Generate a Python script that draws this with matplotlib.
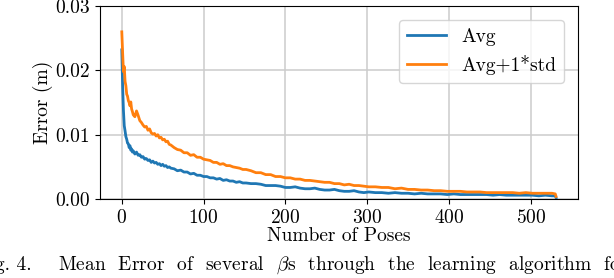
import matplotlib
matplotlib.use('Agg')
import matplotlib.pyplot as plt

plt.rcParams['font.family'] = ['cmr10', 'DejaVu Serif']
plt.rcParams['mathtext.fontset'] = 'cm'
plt.rcParams['axes.unicode_minus'] = False
plt.rcParams['axes.formatter.use_mathtext'] = True

# pose index where each value was read
poses = [0, 1, 2, 3, 4, 5, 6, 7, 8, 9, 10, 11, 12, 13, 14,
         16, 18, 20, 22, 24, 26, 28, 30, 32, 34, 36, 38, 40, 42, 44, 46, 48, 50, 52, 54, 56, 58, 60,
         64, 68, 72, 76, 80, 84, 88, 92, 96, 100, 104, 108, 112, 116, 120, 124, 128, 132, 136, 140,
         144, 148, 152,
         158, 164, 170, 176, 182, 188, 194, 200, 206, 212, 218, 224, 230, 236, 242, 248, 254, 260,
         266, 272, 278, 284, 290, 296, 302,
         310, 318, 326, 334, 342, 350, 358, 366, 374, 382, 390, 398, 406, 414, 422, 430, 438, 446,
         454, 462, 470, 478, 486, 494, 502, 510, 518, 526,
         530, 531]

avg_err = [0.0232, 0.0176, 0.0138, 0.0114, 0.0106, 0.0097, 0.0093, 0.0087, 0.0086, 0.0080,
           0.0083, 0.0076, 0.0078, 0.0073, 0.0075,
           0.0070, 0.0073, 0.0068, 0.0069, 0.0065, 0.0066, 0.0062, 0.0063, 0.0060, 0.0061, 0.0057,
           0.0059, 0.0056, 0.0057, 0.0054, 0.0055, 0.0052, 0.0054, 0.0051, 0.0052, 0.0049, 0.0050,
           0.0048,
           0.0047, 0.0044, 0.0045, 0.0042, 0.0042, 0.0039, 0.0040, 0.0037, 0.0037, 0.0035, 0.0035,
           0.0033, 0.0033, 0.0031, 0.0032, 0.0029, 0.0030, 0.0028, 0.0028, 0.0026, 0.0027, 0.0025,
           0.0025,
           0.0024, 0.0024, 0.0023, 0.0021, 0.0021, 0.0021, 0.0020, 0.0018, 0.0018, 0.0019, 0.0017,
           0.0016, 0.0016, 0.0017, 0.0015, 0.0014, 0.0014, 0.0015, 0.0013, 0.0012, 0.0012, 0.0013,
           0.0011, 0.0010, 0.0011,
           0.0010, 0.0010, 0.0009, 0.0010, 0.0009, 0.0009, 0.0008, 0.0009, 0.0008, 0.0008, 0.0008,
           0.0007, 0.0008, 0.0007, 0.0007, 0.0007, 0.0007, 0.0007, 0.0006, 0.0007, 0.0006, 0.0006,
           0.0006, 0.0006, 0.0006, 0.0005, 0.0006, 0.0005,
           0.0005, 0.0002]

avg_std_err = [0.0260, 0.0228, 0.0198, 0.0206, 0.0183, 0.0176, 0.0163, 0.0160, 0.0153, 0.0150,
               0.0145, 0.0151, 0.0140, 0.0136, 0.0131,
               0.0128, 0.0137, 0.0130, 0.0122, 0.0119, 0.0115, 0.0112, 0.0113, 0.0107, 0.0109,
               0.0103, 0.0101, 0.0102, 0.0098, 0.0100, 0.0095, 0.0096, 0.0092, 0.0093, 0.0089,
               0.0090, 0.0085, 0.0084,
               0.0080, 0.0077, 0.0076, 0.0072, 0.0072, 0.0068, 0.0069, 0.0065, 0.0065, 0.0062,
               0.0061, 0.0060, 0.0057, 0.0057, 0.0054, 0.0055, 0.0052, 0.0052, 0.0050, 0.0049,
               0.0048, 0.0046, 0.0046,
               0.0044, 0.0041, 0.0041, 0.0038, 0.0038, 0.0035, 0.0035, 0.0033, 0.0033, 0.0031,
               0.0031, 0.0029, 0.0029, 0.0028, 0.0027, 0.0026, 0.0026, 0.0024, 0.0024, 0.0022,
               0.0023, 0.0021, 0.0021, 0.0020, 0.0019,
               0.0019, 0.0018, 0.0018, 0.0016, 0.0017, 0.0015, 0.0015, 0.0014, 0.0014, 0.0013,
               0.0013, 0.0012, 0.0012, 0.0012, 0.0011, 0.0011, 0.0011, 0.0010, 0.0010, 0.0010,
               0.0010, 0.0010, 0.0009, 0.0010, 0.0009, 0.0009, 0.0009, 0.0009,
               0.0008, 0.0004]

y_ticks = [0.0, 0.01, 0.02, 0.03]
x_ticks = [0, 100, 200, 300, 400, 500]

FS = 14

fig = plt.figure(figsize=(6.14, 2.78), dpi=100)
ax = fig.add_axes([0.163, 0.284, 0.778, 0.694])

ax.plot(poses, avg_err, color='#1f77b4', linewidth=2.0, label='Avg')
ax.plot(poses, avg_std_err, color='#ff7f0e', linewidth=2.0, label='Avg+1*std')

ax.set_ylim(0, 0.03)
ax.set_yticks(y_ticks)
ax.set_xticks(x_ticks)
ax.set_yticklabels(['%.2f' % v for v in y_ticks])
ax.grid(True, color='#cccccc', linewidth=1.1)
ax.tick_params(labelsize=FS)
ax.set_xlabel('Number of Poses', fontsize=FS, labelpad=0)
ax.set_ylabel('Error (m)', fontsize=FS, labelpad=2)
ax.legend(loc='upper right', fontsize=FS, borderaxespad=0.7)

# caption from the paper (justified, so wide word gaps), cut at the image edges
fig.text(0.052, 0.03, 'Fig. 4.', ha='right', va='baseline', fontsize=FS)
fig.text(0.0945, 0.03,
         r'Mean  Error  of  several  $\beta$s  through  the  learning  algorithm  for',
         ha='left', va='baseline', fontsize=FS)

fig.savefig('out.png', dpi=100)
